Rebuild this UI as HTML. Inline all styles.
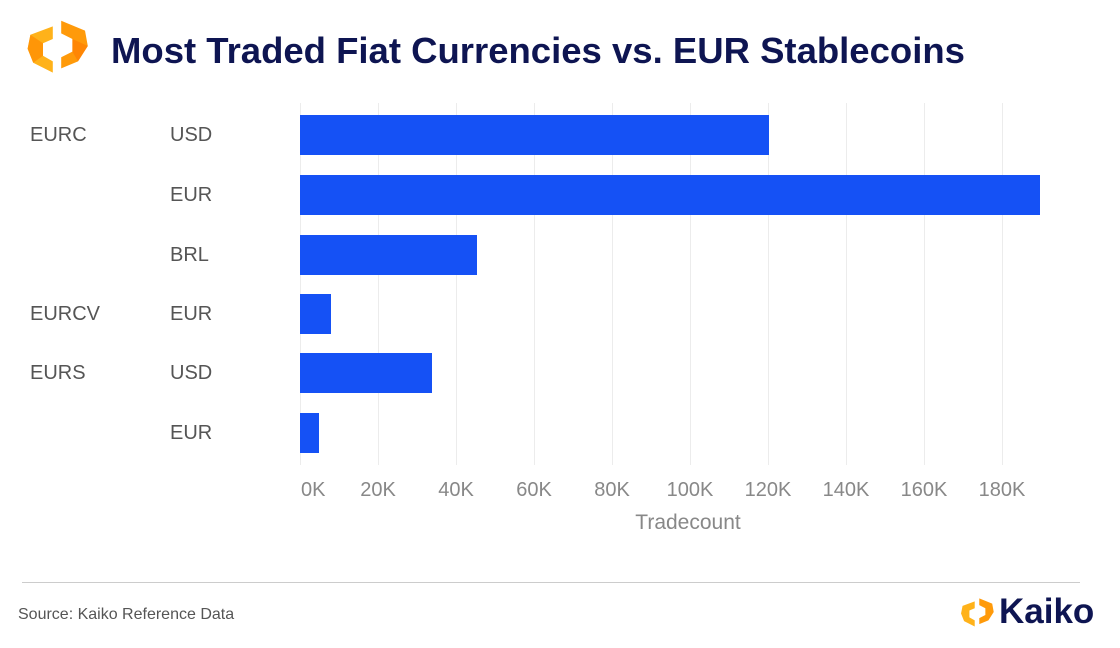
<!DOCTYPE html>
<html><head><meta charset="utf-8"><style>
body{margin:0;width:1120px;height:648px;background:#fff;font-family:"Liberation Sans",Arial,sans-serif;position:relative;overflow:hidden}
.t{position:absolute;white-space:nowrap}
.lab{font-size:20px;color:#555}
.ax{font-size:20px;color:#888}
.bar{position:absolute;left:300px;height:40px;background:#1551f5}
.g{position:absolute;top:103px;height:362px;width:1px;background:#ececec}
</style></head><body>
<svg style="position:absolute;left:22px;top:14px" width="70" height="64" viewBox="0 0 100 80">
<polygon points="12,24 44,12 44,30 30,36 30,54 44,62 44,78 16,64 8,44" fill="#ffb21a"/>
<polygon points="56,4 90,18 94,40 80,62 56,72 56,56 72,48 72,30 56,22" fill="#ff9a0a"/>
<polygon points="12,24 30,36 30,54 16,64 8,44" fill="#ff8a00" opacity=".7"/>
<polygon points="94,40 72,30 72,48 80,62" fill="#ff7a00" opacity=".6"/>
</svg>
<div class="t" style="left:111px;top:30px;font-size:36.5px;font-weight:bold;color:#0e1552">Most Traded Fiat Currencies vs. EUR Stablecoins</div>
<div class="g" style="left:300px"></div><div class="g" style="left:378px"></div><div class="g" style="left:456px"></div><div class="g" style="left:534px"></div><div class="g" style="left:612px"></div><div class="g" style="left:690px"></div><div class="g" style="left:768px"></div><div class="g" style="left:846px"></div><div class="g" style="left:924px"></div><div class="g" style="left:1002px"></div>
<div class="bar" style="top:115px;width:469px"></div>
<div class="bar" style="top:175px;width:740px"></div>
<div class="bar" style="top:235px;width:177px"></div>
<div class="bar" style="top:294px;width:31px"></div>
<div class="bar" style="top:353px;width:132px"></div>
<div class="bar" style="top:413px;width:19px"></div>
<div class="t lab" style="left:30px;top:124px">EURC</div>
<div class="t lab" style="left:30px;top:303px">EURCV</div>
<div class="t lab" style="left:30px;top:362px">EURS</div>
<div class="t lab" style="left:170px;top:124px">USD</div>
<div class="t lab" style="left:170px;top:184px">EUR</div>
<div class="t lab" style="left:170px;top:244px">BRL</div>
<div class="t lab" style="left:170px;top:303px">EUR</div>
<div class="t lab" style="left:170px;top:362px">USD</div>
<div class="t lab" style="left:170px;top:422px">EUR</div>
<div class="t ax" style="left:301px;top:479px">0K</div>
<div class="t ax" style="left:378px;top:479px;transform:translateX(-50%)">20K</div>
<div class="t ax" style="left:456px;top:479px;transform:translateX(-50%)">40K</div>
<div class="t ax" style="left:534px;top:479px;transform:translateX(-50%)">60K</div>
<div class="t ax" style="left:612px;top:479px;transform:translateX(-50%)">80K</div>
<div class="t ax" style="left:690px;top:479px;transform:translateX(-50%)">100K</div>
<div class="t ax" style="left:768px;top:479px;transform:translateX(-50%)">120K</div>
<div class="t ax" style="left:846px;top:479px;transform:translateX(-50%)">140K</div>
<div class="t ax" style="left:924px;top:479px;transform:translateX(-50%)">160K</div>
<div class="t ax" style="left:1002px;top:479px;transform:translateX(-50%)">180K</div>
<div class="t ax" style="left:688px;top:511px;transform:translateX(-50%);font-size:21px">Tradecount</div>
<div style="position:absolute;left:22px;top:582px;width:1058px;height:1px;background:#ccc"></div>
<div class="t" style="left:18px;top:606px;font-size:16px;color:#555">Source: Kaiko Reference Data</div>
<svg style="position:absolute;left:958px;top:594px" width="38" height="36" viewBox="0 0 100 80">
<polygon points="12,24 44,12 44,30 30,36 30,54 44,62 44,78 16,64 8,44" fill="#ffb21a"/>
<polygon points="56,4 90,18 94,40 80,62 56,72 56,56 72,48 72,30 56,22" fill="#ff9a0a"/>
</svg>
<div class="t" style="left:999px;top:592px;font-size:35px;font-weight:bold;color:#0e1552">Kaiko</div>
</body></html>
